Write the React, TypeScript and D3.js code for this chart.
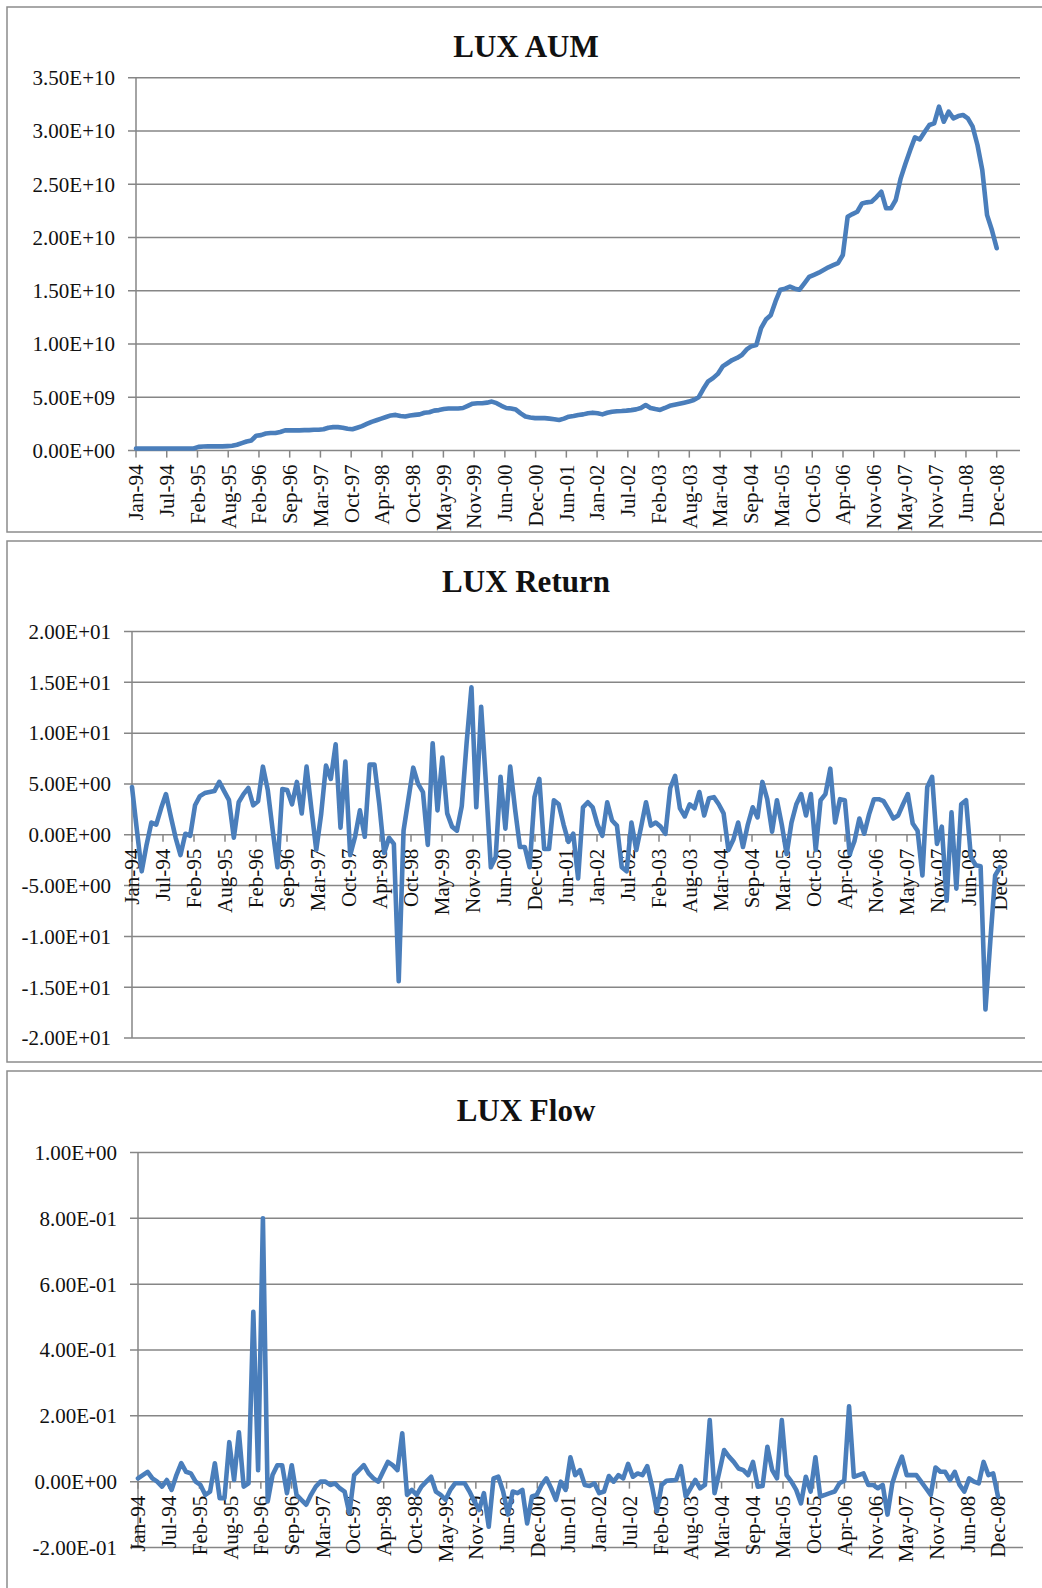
import React from 'react';
import * as d3 from 'd3';

// Category axis labels (one every ~6.4 months, as laid out on the axis)
const tickLabels = [
  'Jan-94', 'Jul-94', 'Feb-95', 'Aug-95', 'Feb-96', 'Sep-96', 'Mar-97', 'Oct-97', 'Apr-98', 'Oct-98',
  'May-99', 'Nov-99', 'Jun-00', 'Dec-00', 'Jun-01', 'Jan-02', 'Jul-02', 'Feb-03', 'Aug-03', 'Mar-04',
  'Sep-04', 'Mar-05', 'Oct-05', 'Apr-06', 'Nov-06', 'May-07', 'Nov-07', 'Jun-08', 'Dec-08',
];

// Monthly assets under management, in billions (Jan-94 .. Dec-08)
const aumBillions = [
  0.2, 0.2, 0.2, 0.2, 0.2, 0.2, 0.2, 0.2, 0.2, 0.2,
  0.2, 0.2, 0.2, 0.35, 0.38, 0.4, 0.4, 0.4, 0.4, 0.42,
  0.45, 0.55, 0.7, 0.85, 0.95, 1.4, 1.45, 1.6, 1.65, 1.65,
  1.75, 1.9, 1.9, 1.9, 1.9, 1.92, 1.92, 1.95, 1.95, 2.0,
  2.15, 2.2, 2.2, 2.15, 2.05, 2.0, 2.15, 2.3, 2.5, 2.7,
  2.85, 3.0, 3.15, 3.3, 3.35, 3.25, 3.2, 3.3, 3.35, 3.4,
  3.55, 3.6, 3.75, 3.8, 3.9, 3.95, 3.95, 3.95, 4.0, 4.2,
  4.4, 4.45, 4.45, 4.5, 4.6, 4.45, 4.2, 4.0, 3.95, 3.85,
  3.5, 3.2, 3.1, 3.05, 3.05, 3.05, 3.0, 2.95, 2.87, 3.0,
  3.18, 3.25, 3.34, 3.4, 3.5, 3.56, 3.5, 3.4, 3.55, 3.65,
  3.7, 3.72, 3.75, 3.8, 3.87, 4.0, 4.28, 4.0, 3.9, 3.82,
  4.0, 4.2, 4.3, 4.4, 4.5, 4.6, 4.75, 5.0, 5.8, 6.5,
  6.8, 7.2, 7.9, 8.2, 8.5, 8.7, 8.97, 9.5, 9.8, 9.9,
  11.5, 12.3, 12.7, 14.0, 15.1, 15.2, 15.4, 15.2, 15.1, 15.7,
  16.3, 16.5, 16.7, 16.95, 17.2, 17.4, 17.6, 18.36, 21.95, 22.2,
  22.42, 23.2, 23.3, 23.36, 23.8, 24.3, 22.74, 22.74, 23.52, 25.5,
  26.9, 28.2, 29.4, 29.2, 29.9, 30.56, 30.72, 32.28, 30.87, 31.81,
  31.19, 31.4, 31.5, 31.19, 30.4, 28.68, 26.34, 22.1, 20.7, 19.0,
];

// Monthly return
const returns = [
  4.7, 0.5, -3.6, -1.0, 1.2, 1.0, 2.6, 4.0, 1.8, -0.3,
  -2.0, 0.1, -0.1, 2.9, 3.8, 4.1, 4.2, 4.3, 5.2, 4.3,
  3.4, -0.3, 3.2, 4.0, 4.6, 2.9, 3.3, 6.7, 4.4, 0.5,
  -3.2, 4.5, 4.4, 3.0, 5.2, 2.1, 6.7, 2.5, -1.5, 2.0,
  6.8, 5.5, 8.9, 0.7, 7.2, -2.0, -0.2, 2.4, -0.2, 6.9,
  6.9, 3.0, -1.8, -0.3, -0.9, -14.4, 0.4, 3.5, 6.6, 5.0,
  4.2, -1.0, 9.0, 2.4, 7.6, 2.1, 0.8, 0.4, 2.8, 9.0,
  14.5, 2.7, 12.6, 5.0, -3.2, -2.2, 5.7, 0.6, 6.7, 2.5,
  -1.2, -1.2, -3.2, 3.7, 5.5, -1.4, -1.4, 3.4, 3.0, 1.0,
  -0.7, 0.1, -4.3, 2.7, 3.2, 2.7, 1.0, -0.1, 3.2, 1.4,
  0.9, -3.2, -3.6, 1.2, -1.5, 0.8, 3.2, 0.9, 1.2, 0.8,
  0.1, 4.6, 5.8, 2.6, 1.8, 3.0, 2.6, 4.2, 1.9, 3.6,
  3.7, 3.0, 2.1, -1.5, -0.5, 1.2, -1.2, 1.0, 2.7, 1.7,
  5.2, 3.5, 0.3, 3.4, 1.0, -1.9, 1.2, 3.0, 4.0, 1.9,
  4.0, -1.5, 3.4, 4.0, 6.5, 1.2, 3.5, 3.4, -1.9, -0.6,
  1.6, 0.1, 2.0, 3.5, 3.5, 3.3, 2.5, 1.6, 1.9, 3.0,
  4.0, 1.1, 0.4, -4.0, 4.7, 5.7, -0.9, 0.8, -6.5, 2.2,
  -5.3, 3.0, 3.4, -2.2, -3.0, -3.1, -17.2, -10.5, -4.0, -3.2,
];

// Monthly net flow
const flows = [
  0.01, 0.02, 0.03, 0.01, 0.0, -0.015, 0.005, -0.025, 0.02, 0.056,
  0.03, 0.025, 0.0, -0.01, -0.04, -0.03, 0.056, -0.05, -0.05, 0.12,
  0.005, 0.15, -0.015, -0.005, 0.516, 0.035, 0.8, -0.06, 0.02, 0.05,
  0.05, -0.035, 0.05, -0.04, -0.055, -0.07, -0.04, -0.015, 0.0, 0.0,
  -0.01, -0.005, -0.02, -0.03, -0.096, 0.02, 0.035, 0.05, 0.025, 0.01,
  0.0, 0.03, 0.06, 0.05, 0.035, 0.147, -0.04, -0.025, -0.04, -0.015,
  0.0, 0.015, -0.03, -0.04, -0.055, -0.025, -0.005, -0.005, -0.005, -0.03,
  -0.06, -0.086, -0.035, -0.137, 0.01, 0.015, -0.03, -0.1, -0.03, -0.035,
  -0.025, -0.127, -0.045, -0.04, -0.01, 0.01, -0.02, -0.055, 0.0, -0.025,
  0.074, 0.02, 0.035, -0.01, -0.013, -0.005, -0.035, -0.03, 0.017, 0.0,
  0.02, 0.01, 0.054, 0.015, 0.025, 0.02, 0.047, -0.015, -0.09, -0.01,
  0.003, 0.004, 0.005, 0.047, -0.045, -0.02, 0.005, -0.02, -0.01, 0.187,
  -0.035, 0.03, 0.096, 0.076, 0.06, 0.04, 0.035, 0.02, 0.06, -0.015,
  -0.013, 0.106, 0.035, 0.01, 0.187, 0.02, 0.0, -0.025, -0.066, 0.015,
  -0.03, 0.074, -0.045, -0.04, -0.035, -0.03, -0.005, 0.003, 0.229, 0.015,
  0.02, 0.025, -0.01, -0.01, -0.02, -0.01, -0.1, -0.005, 0.04, 0.076,
  0.02, 0.02, 0.02, 0.0, -0.02, -0.04, 0.043, 0.03, 0.03, 0.005,
  0.03, -0.01, -0.03, 0.01, 0.0, -0.005, 0.06, 0.02, 0.025, -0.045,
];

// Value-axis ticks for each panel
const aumTicks = [0, 5e9, 1e10, 1.5e10, 2e10, 2.5e10, 3e10, 3.5e10];
const returnTicks = [-20, -15, -10, -5, 0, 5, 10, 15, 20];
const flowTicks = [-0.2, 0, 0.2, 0.4, 0.6, 0.8, 1.0];

const aumValues = aumBillions.map((v) => v * 1e9);

const FONT = '"Liberation Serif", "Times New Roman", Times, serif';
const GRID = '#868686';
const LINE = '#4a7ebb';

// Excel-style scientific label: 3.50E+10, -2.00E-01
function sci(v: number): string {
  const [mant, exp] = v.toExponential(2).split('e');
  const sign = exp[0] === '-' ? '-' : '+';
  const digits = exp.replace(/[+-]/, '').padStart(2, '0');
  return `${mant}E${sign}${digits}`;
}

type PanelProps = {
  title: string;
  values: number[];
  ticks: number[];
  frameTop: number;
  frameBottom: number;
  axisX: number;
  plotTop: number;
  plotBottom: number;
  dataEnd: number;
  gridRight: number;
  titleY: number;
};

function Panel(p: PanelProps) {
  const n = p.values.length;
  const x = d3.scaleLinear().domain([0, n - 1]).range([p.axisX, p.dataEnd]);
  const y = d3
    .scaleLinear()
    .domain([d3.min(p.ticks) as number, d3.max(p.ticks) as number])
    .range([p.plotBottom, p.plotTop]);
  const y0 = y(0);
  const line = d3
    .line<number>()
    .x((_, i) => x(i))
    .y((d) => y(d));
  const step = (n - 1) / (tickLabels.length - 1);

  return (
    <g>
      <rect
        x={7}
        y={p.frameTop}
        width={1050}
        height={p.frameBottom - p.frameTop}
        fill="#fff"
        stroke="#8c8c8c"
        strokeWidth={1.5}
      />
      <text
        x={526}
        y={p.titleY}
        textAnchor="middle"
        fontFamily={FONT}
        fontWeight="bold"
        fontSize={31}
        fill="#111"
      >
        {p.title}
      </text>
      {p.ticks.map((t) => (
        <g key={`g${t}`}>
          <line
            x1={p.axisX - 8}
            x2={p.gridRight}
            y1={y(t)}
            y2={y(t)}
            stroke={GRID}
            strokeWidth={1.5}
          />
          <text
            x={p.axisX - 21}
            y={y(t)}
            dy="0.35em"
            textAnchor="end"
            fontFamily={FONT}
            fontSize={21}
            fill="#111"
          >
            {sci(t)}
          </text>
        </g>
      ))}
      <line
        x1={p.axisX}
        x2={p.axisX}
        y1={p.plotTop}
        y2={p.plotBottom}
        stroke={GRID}
        strokeWidth={1.5}
      />
      {tickLabels.map((lab, i) => {
        const tx = x(i * step);
        return (
          <g key={lab}>
            <line x1={tx} x2={tx} y1={y0} y2={y0 + 7} stroke={GRID} strokeWidth={1.5} />
            <text
              transform={`translate(${tx},${y0 + 14}) rotate(-90)`}
              dy="0.35em"
              textAnchor="end"
              fontFamily={FONT}
              fontSize={21}
              fill="#111"
            >
              {lab}
            </text>
          </g>
        );
      })}
      <path
        d={line(p.values) || ''}
        fill="none"
        stroke={LINE}
        strokeWidth={4.6}
        strokeLinejoin="round"
        strokeLinecap="round"
      />
    </g>
  );
}

export default function App() {
  return (
    <svg
      width={1042}
      height={1588}
      style={{ position: 'absolute', left: 0, top: 0, background: '#fff' }}
    >
      <rect width={1042} height={1588} fill="#fff" />
      <Panel
        title="LUX AUM"
        values={aumValues}
        ticks={aumTicks}
        frameTop={7}
        frameBottom={532}
        axisX={136}
        plotTop={77.7}
        plotBottom={450.6}
        dataEnd={996.7}
        gridRight={1020}
        titleY={57}
      />
      <Panel
        title="LUX Return"
        values={returns}
        ticks={returnTicks}
        frameTop={541}
        frameBottom={1062}
        axisX={132}
        plotTop={631.5}
        plotBottom={1038}
        dataEnd={1000}
        gridRight={1025}
        titleY={592}
      />
      <Panel
        title="LUX Flow"
        values={flows}
        ticks={flowTicks}
        frameTop={1071}
        frameBottom={1600}
        axisX={138}
        plotTop={1152.5}
        plotBottom={1547.5}
        dataEnd={998}
        gridRight={1023}
        titleY={1121}
      />
    </svg>
  );
}
